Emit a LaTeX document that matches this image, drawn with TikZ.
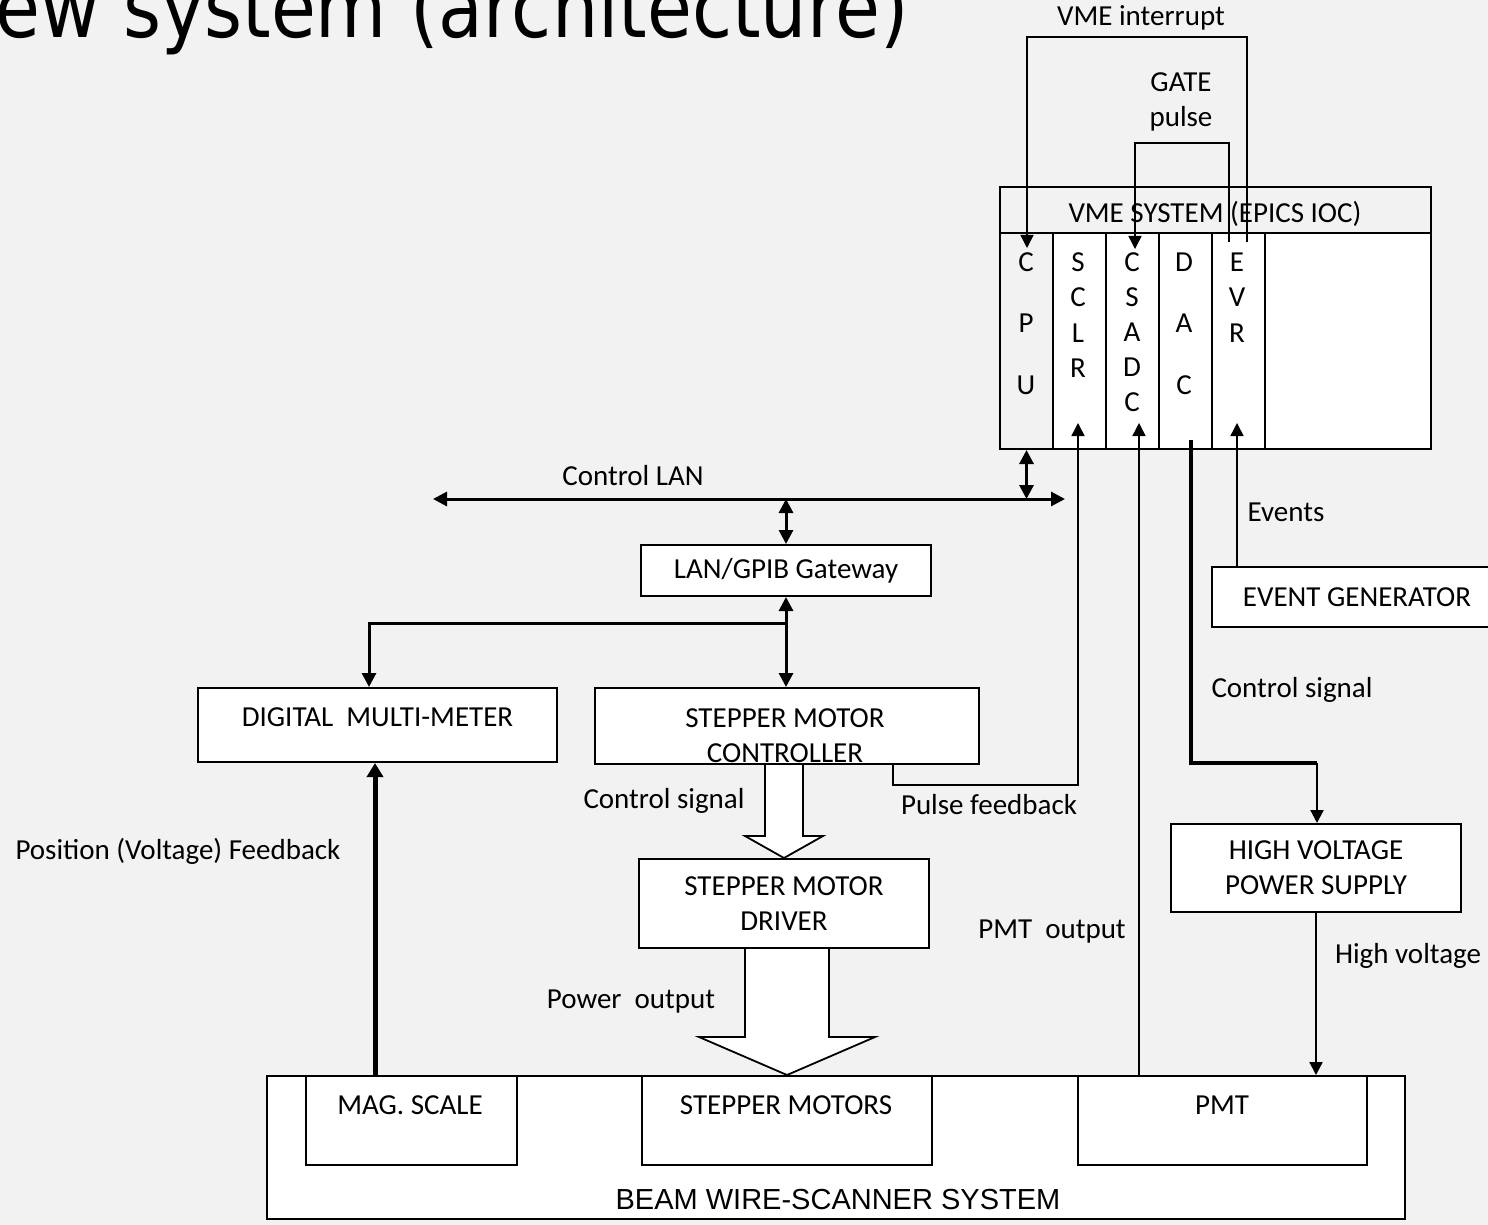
\documentclass[tikz,border=0pt]{standalone}
\usepackage{fontspec}
\setmainfont{Carlito}
\newfontfamily\arialfont{Liberation Sans}
\newfontfamily\titlefont{DejaVu Sans}
\usetikzlibrary{arrows.meta,calc}
\definecolor{slide}{HTML}{F2F2F2}

\begin{document}
\begin{tikzpicture}[x=0.5pt,y=-0.5pt,
  txt/.style={inner sep=0pt,font=\fontsize{14.5}{17.5}\selectfont,align=center},
  blk/.style={draw,line width=1pt,fill=white,inner sep=0pt,font=\fontsize{14.5}{17.5}\selectfont,align=center},
  slot/.style={draw,line width=1pt,inner sep=0pt,minimum width=26.5pt,minimum height=108pt},
  sigarr/.style={line width=0.75pt,-{Triangle[width=6.5pt,length=6.5pt]}},
  lanarr/.style={line width=1.5pt,{Triangle[width=7pt,length=7pt]}-{Triangle[width=7pt,length=7pt]}},
  tapline/.style={line width=1.5pt,-{Triangle[width=7pt,length=7pt]}},
  fbarr/.style={line width=2.5pt,-{Triangle[width=8pt,length=7pt]}},
  dacline/.style={line width=2pt},
  hvarr/.style={line width=1.1pt,-{Triangle[width=6.5pt,length=6.5pt]}},
  blockarr/.style={line width=0.9pt,fill=white,line join=miter}]
\clip (0,0) rectangle (1488,1225);
\fill[slide] (0,0) rectangle (1488,1225);
\node[txt,anchor=base west,yscale=1.15,font=\titlefont\fontsize{36.5}{40}\selectfont] (title) at (-5,38) {ew system (architecture)};

% VME crate
\node[blk,minimum width=215.5pt,minimum height=131pt] (vme) at (1215.5,318) {};
\node[blk,fill=slide,minimum width=215.5pt,minimum height=23pt] (vmehead) at (1215.5,210) {};
\node[txt,anchor=base] (vmetext) at (1215,223) {VME SYSTEM (EPICS IOC)};
\foreach \n/\x/\c in {cpu/1026.5/slide,sclr/1079.5/white,csadc/1132.5/white,dac/1185.5/white,evr/1238.5/white}
  \node[slot,fill=\c] (\n) at (\x,341) {};
\foreach \l [count=\i from 0] in {C,P,U} \node[txt] (cpu-\i) at (1026,262+61.5*\i) {\l};
\foreach \l [count=\i from 0] in {S,C,L,R} \node[txt] (sclr-\i) at (1078,262+35.5*\i) {\l};
\foreach \l [count=\i from 0] in {C,S,A,D,C} \node[txt] (csadc-\i) at (1132,262+35*\i) {\l};
\foreach \l [count=\i from 0] in {D,A,C} \node[txt] (dac-\i) at (1184,262+61.5*\i) {\l};
\foreach \l [count=\i from 0] in {E,V,R} \node[txt] (evr-\i) at (1237,262+35.5*\i) {\l};

% boxes
\node[blk,minimum width=145pt,minimum height=25.5pt] (gw) at (786,570.5) {LAN/GPIB Gateway};
\node[blk,minimum width=179.5pt,minimum height=37pt] (dmm) at (377.5,725) {};
\node[txt,anchor=base] (dmmtext) at (377.5,726) {DIGITAL\ \ MULTI-METER};
\node[blk,minimum width=192pt,minimum height=38pt] (smc) at (787,726) {};
\node[txt,anchor=north] (smctext) at (785,708) {STEPPER MOTOR\\CONTROLLER};
\node[blk,minimum width=145pt,minimum height=44.5pt] (smd) at (784,903.5) {STEPPER MOTOR\\DRIVER};
\node[blk,minimum width=145pt,minimum height=44pt] (hvps) at (1316,868) {HIGH VOLTAGE\\POWER SUPPLY};
\node[blk,minimum width=145pt,minimum height=30pt] (evg) at (1357,597) {EVENT GENERATOR};
\node[blk,minimum width=569pt,minimum height=71.5pt] (beam) at (836,1147.5) {};
\node[txt,anchor=base,font=\arialfont\fontsize{14.5}{17.5}\selectfont] (beamtext) at (838,1209) {BEAM WIRE-SCANNER SYSTEM};
\node[blk,minimum width=105.5pt,minimum height=44.5pt] (ms) at (411.5,1120.5) {};
\node[txt,anchor=base] (mstext) at (410,1114) {MAG. SCALE};
\node[blk,minimum width=145pt,minimum height=44.5pt] (sm) at (787,1120.5) {};
\node[txt,anchor=base] (smtext) at (786,1114) {STEPPER MOTORS};
\node[blk,minimum width=144.5pt,minimum height=44.5pt] (pmt) at (1222.5,1120.5) {};
\node[txt,anchor=base] (pmttext) at (1222,1114) {PMT};

% labels
\node[txt,anchor=base] (irqlabel) at (1141,25.5) {VME interrupt};
\node[txt,anchor=north] (gatelabel) at (1181,72) {GATE\\pulse};
\node[txt,anchor=base] (lanlabel) at (633,485) {Control LAN};
\node[txt,anchor=base] (evlabel) at (1286,521) {Events};
\node[txt,anchor=base] (dacsig) at (1292,697) {Control signal};
\node[txt,anchor=base] (smcsig) at (664,808) {Control signal};
\node[txt,anchor=base] (pflabel) at (989,814) {Pulse feedback};
\node[txt,anchor=base] (poslabel) at (178,859) {Position (Voltage) Feedback};
\node[txt,anchor=base] (pmtout) at (1052,938) {PMT\ \ output};
\node[txt,anchor=base] (hvlabel) at (1408,963) {High voltage};
\node[txt,anchor=base] (pwrout) at (631,1008) {Power\ \ output};

% connector ends
\coordinate (irqsrc) at (1247,242);
\coordinate (irqtop) at (1247,37);
\coordinate (cpuin) at (1027,248);
\coordinate (gatesrc) at (1229,242);
\coordinate (gatetop) at (1229,143);
\coordinate (adcgate) at (1135,249);
\coordinate (lanl) at (433,499);
\coordinate (lanr) at (1065,499);
\coordinate (sclrin) at (1078,423);
\coordinate (csadcin) at (1139,423);
\coordinate (evrin) at (1237,423);
\coordinate (dacout) at (1191,440);
\coordinate (dacbend) at (1317,763);
\coordinate (pf) at (893,785);
\coordinate (tap) at (786,623);
\coordinate (dmmin) at (369,688);
\coordinate (msout) at (375,1076);

\draw[sigarr] (irqsrc) -- (irqtop) -| (cpuin);
\draw[sigarr] (gatesrc) -- (gatetop) -| (adcgate);
\draw[lanarr] (lanl) -- (lanr);
\draw[lanarr] (cpu.south) -- (cpu.south |- lanr);
\draw[lanarr] (gw.north |- lanl) -- (gw.north);
\draw[lanarr] (gw.south) -- (gw.south |- smc.north);
\draw[tapline] (tap) -| (dmmin |- dmm.north);
\draw[fbarr] (ms.north -| msout) -- (dmm.south -| msout);
\draw[sigarr] (smc.south -| pf) -- (pf) -| (sclrin);
\draw[sigarr] (pmt.north -| csadcin) -- (csadcin);
\draw[sigarr] (evg.north -| evrin) -- (evrin);
\draw[dacline] (dacout) |- (dacbend);
\draw[hvarr] (dacbend) -- (dacbend |- hvps.north);
\draw[hvarr] (hvps.south) -- (hvps.south |- pmt.north);

\path (smd.north) ++(-19,-22) coordinate (ca-l) ++(38,0) coordinate (ca-r);
\draw[blockarr] (ca-l |- smc.south) -- (ca-l) -- ++(-20,0) -- (smd.north) -- ($(ca-r)+(20,0)$) -- (ca-r) -- (ca-r |- smc.south);
\path (sm.north) ++(-42,-38) coordinate (pa-l) ++(84,0) coordinate (pa-r);
\draw[blockarr] (pa-l |- smd.south) -- (pa-l) -- ++(-46,0) -- (sm.north) -- ($(pa-r)+(46,0)$) -- (pa-r) -- (pa-r |- smd.south);
\end{tikzpicture}
\end{document}
